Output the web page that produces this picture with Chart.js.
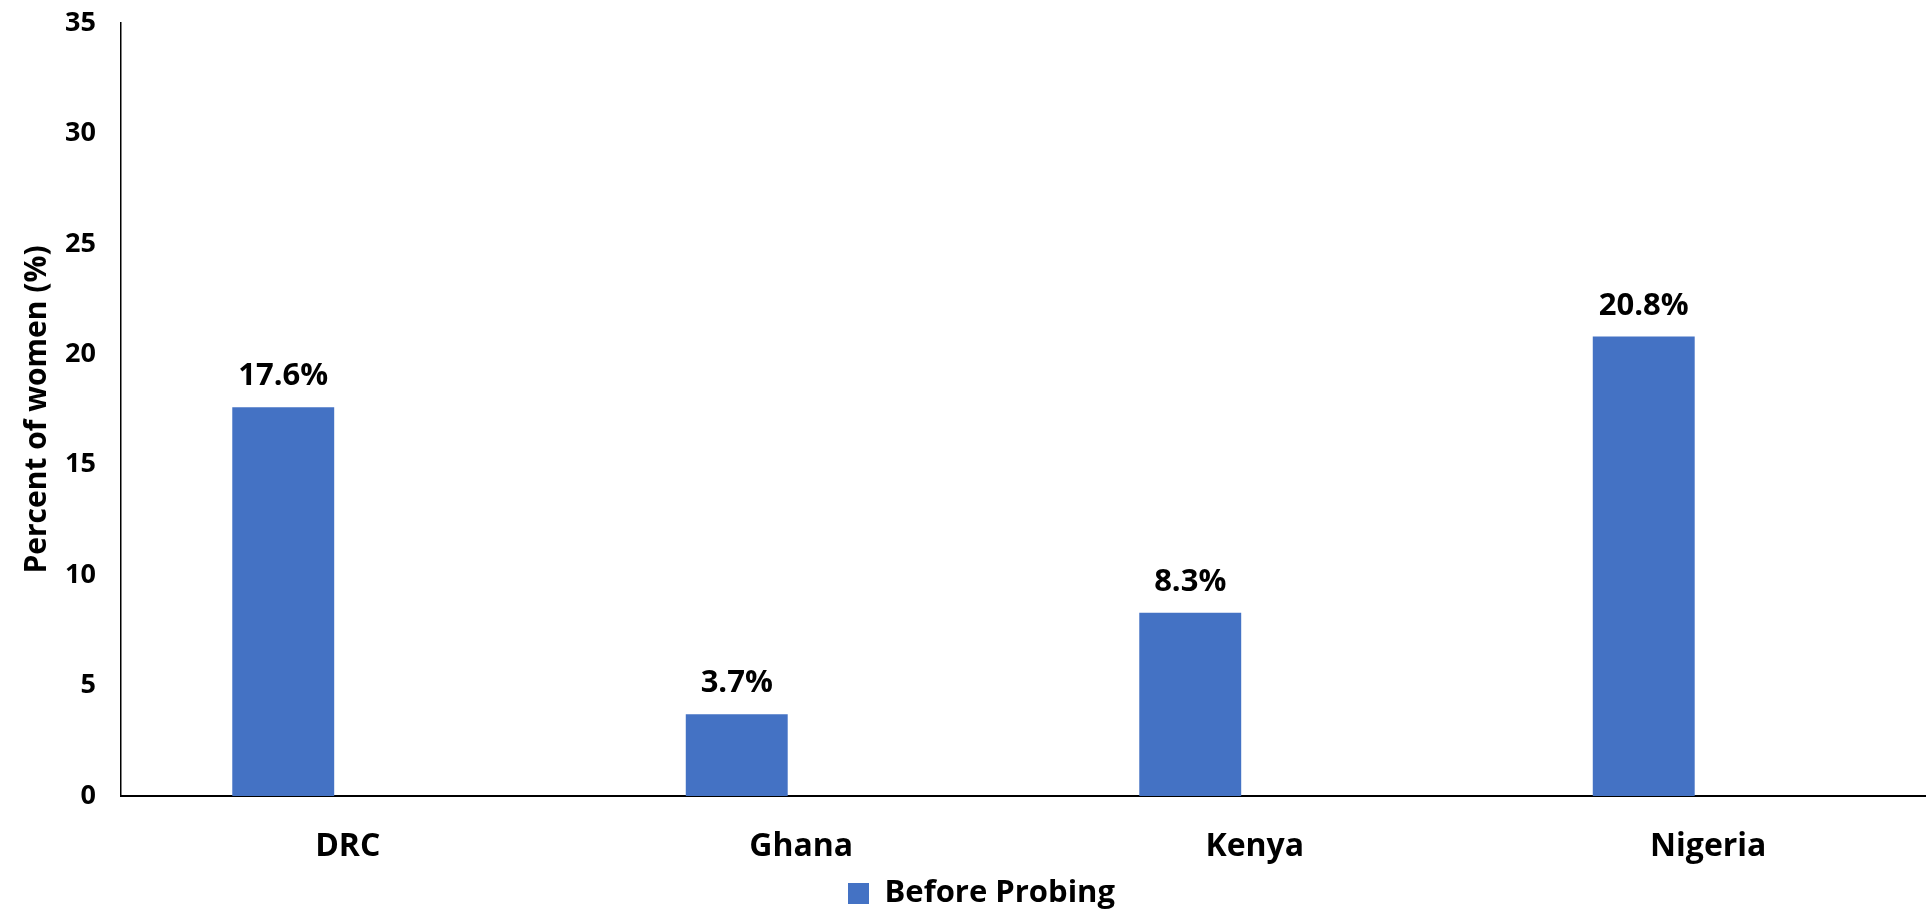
<!DOCTYPE html>
<html>
<head>
<meta charset="utf-8">
<title>Percent of women before probing</title>
<script src="https://cdn.jsdelivr.net/npm/chart.js@4"></script>
<style>
  html, body { margin: 0; padding: 0; background: #fff; overflow: hidden; }
  canvas { display: block; }
</style>
</head>
<body>
<canvas id="probeChart" width="1935" height="919"></canvas>
<script>
// values
const countries = ["DRC", "Ghana", "Kenya", "Nigeria"];
const beforeProbing = [17.6, 3.7, 8.3, 20.8];
// second slot of each group is empty in the reference, bars sit left of centre
const emptySlot = [null, null, null, null];

const FONT = "'Open Sans', 'Noto Sans', sans-serif";
const barColor = "#4472C4";

// draws the "17.6%" labels above bars
const barLabels = {
  id: "barLabels",
  afterDatasetsDraw(chart) {
    const ctx = chart.ctx;
    const meta = chart.getDatasetMeta(0);
    ctx.save();
    ctx.font = "bold 31px " + FONT;
    ctx.fillStyle = "#000";
    ctx.textAlign = "center";
    ctx.textBaseline = "alphabetic";
    meta.data.forEach((bar, i) => {
      ctx.fillText(beforeProbing[i].toFixed(1) + "%", bar.x, bar.y - 22);
    });
    ctx.restore();
  }
};

function drawChart() {
  const ctx = document.getElementById("probeChart").getContext("2d");
  new Chart(ctx, {
    type: "bar",
    data: {
      labels: countries,
      datasets: [
        {
          label: "Before Probing",
          data: beforeProbing,
          backgroundColor: barColor,
          borderWidth: 0,
          categoryPercentage: 0.569,
          barPercentage: 0.79
        },
        {
          label: "",
          data: emptySlot,
          backgroundColor: "rgba(0,0,0,0)",
          categoryPercentage: 0.569,
          barPercentage: 0.79
        }
      ]
    },
    options: {
      responsive: false,
      animation: false,
      // left padding keeps the legend centred where the reference has it
      layout: { padding: { top: 23, left: 28, right: 0, bottom: 0 } },
      plugins: {
        tooltip: { enabled: false },
        legend: {
          position: "bottom",
          labels: {
            filter: (item) => item.text !== "",
            boxWidth: 21,
            boxHeight: 21,
            color: "#000",
            padding: 0,
            font: { family: FONT, size: 31, weight: "bold" }
          }
        }
      },
      scales: {
        x: {
          grid: { display: false },
          border: { display: true, color: "#000", width: 2 },
          ticks: {
            color: "#000",
            padding: 24,
            font: { family: FONT, size: 32, weight: "bold" }
          },
          afterFit: (scale) => { scale.height = 82; }
        },
        y: {
          min: 0,
          max: 35,
          grid: { display: false },
          border: { display: true, color: "#000", width: 1.5 },
          ticks: {
            stepSize: 5,
            color: "#000",
            padding: 17,
            font: { family: FONT, size: 27, weight: "bold" }
          },
          title: {
            display: true,
            text: "Percent of women (%)",
            color: "#000",
            padding: 0,
            font: { family: FONT, size: 30, weight: "bold", lineHeight: 0.6 }
          },
          afterFit: (scale) => {
            scale.width = 93;
            scale.paddingTop = 0;
            scale.paddingBottom = 0;
          }
        }
      }
    },
    plugins: [barLabels]
  });
}

document.fonts.load("bold 32px 'Open Sans'").then(drawChart, drawChart);
</script>
</body>
</html>
